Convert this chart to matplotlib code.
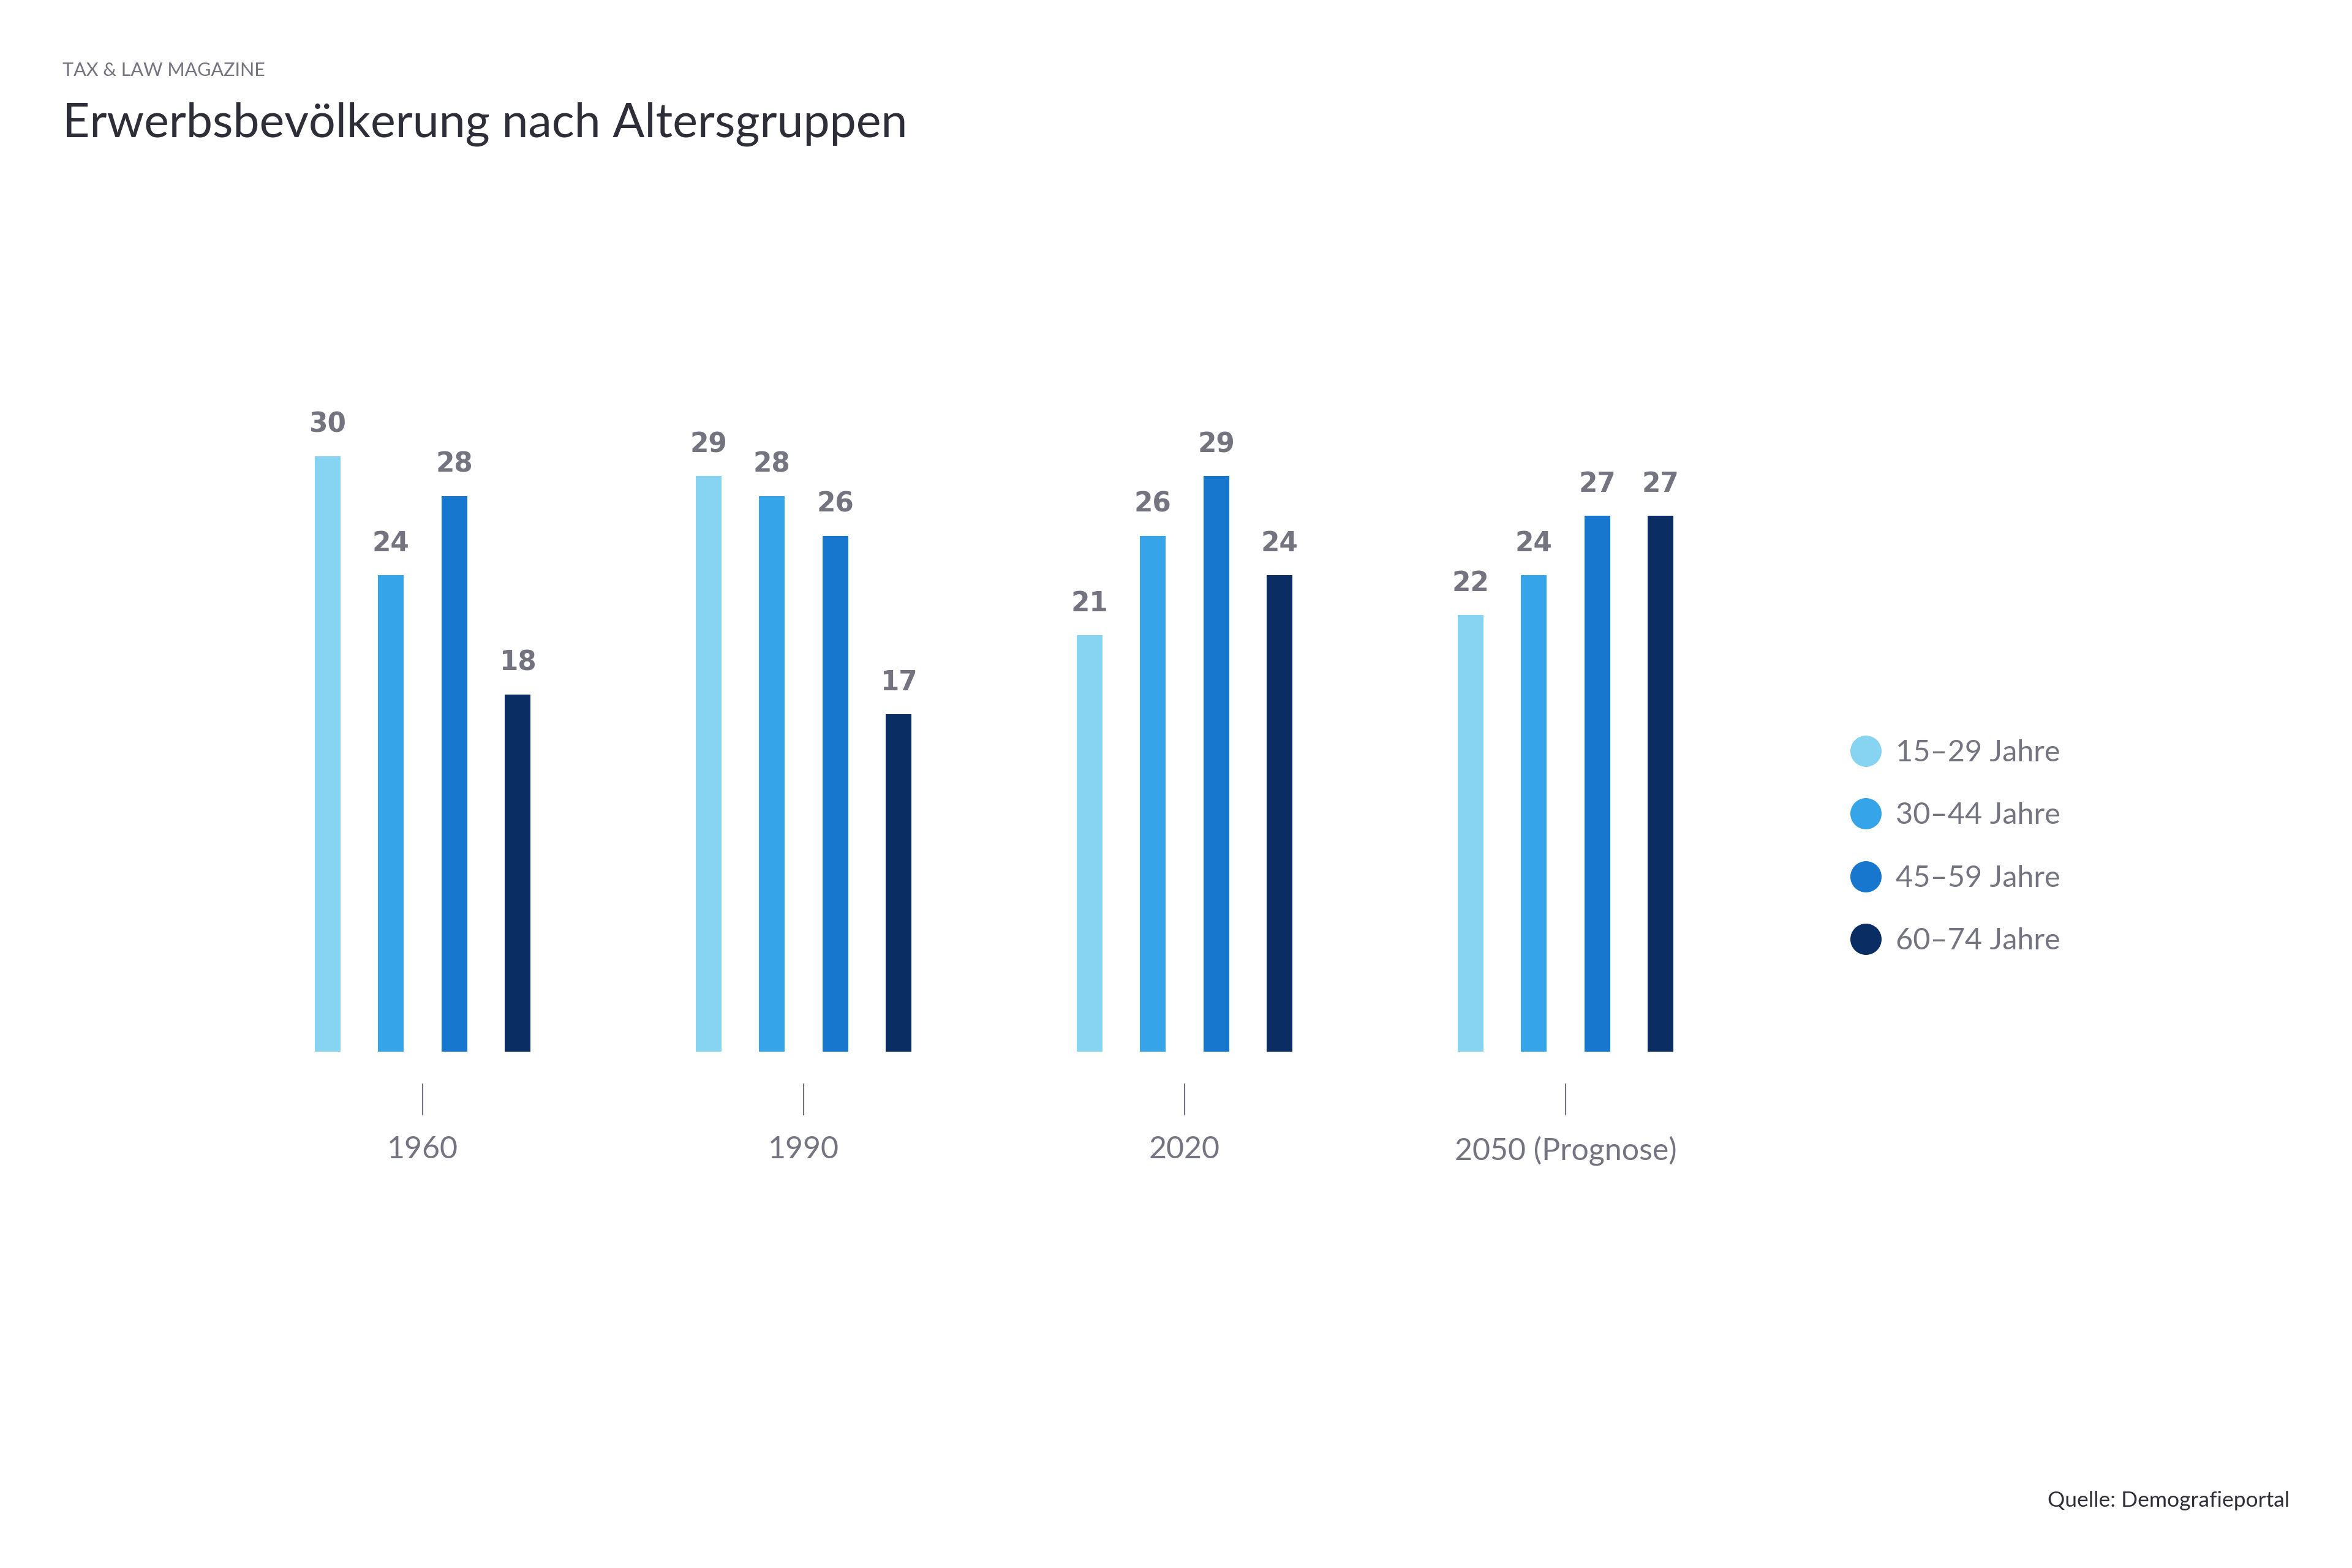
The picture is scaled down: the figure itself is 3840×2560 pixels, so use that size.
import matplotlib
matplotlib.use("Agg")
import matplotlib.pyplot as plt
from matplotlib.lines import Line2D
import numpy as np

# ---- data ----
years = ["1960", "1990", "2020", "2050 (Prognose)"]
age_groups = ["15–29 Jahre", "30–44 Jahre", "45–59 Jahre", "60–74 Jahre"]
v_15_29 = [30, 29, 21, 22]
v_30_44 = [24, 28, 26, 24]
v_45_59 = [28, 26, 29, 27]
v_60_74 = [18, 17, 24, 27]
series = [v_15_29, v_30_44, v_45_59, v_60_74]
colors = ["#87D3F2", "#35A4E8", "#1777CF", "#0A2D64"]

GREY = "#747480"
DARK = "#2E2E38"
FONT = "Lato"

W, H = 3840, 2560
DPI = 100
fig = plt.figure(figsize=(W / DPI, H / DPI), dpi=DPI)
fig.patch.set_facecolor("white")

def px(x0, y0_top, w, h):
    # convert pixel rect (top-left origin) to figure fraction
    return [x0 / W, 1 - (y0_top + h) / H, w / W, h / H]

# axes: x from -0.5..3.5 (622 px per group), y 0..35 (32.4 px per unit), baseline at 1717 px
group_px = 622
unit_px = 32.4
left_px = 690 - 0.5 * group_px
ax_w = 4 * group_px
ymax = 35
ax_h = ymax * unit_px
ax = fig.add_axes(px(left_px, 1717 - ax_h, ax_w, ax_h))
ax.set_xlim(-0.5, 3.5)
ax.set_ylim(0, ymax)

x = np.arange(len(years))
pitch = 103.5 / group_px
bw = 42 / group_px
for i, (vals, c, lab) in enumerate(zip(series, colors, age_groups)):
    xs = x + (i - 1.5) * pitch
    ax.bar(xs, vals, width=bw, color=c, label=lab, linewidth=0)
    for xi, v in zip(xs, vals):
        ax.annotate(str(v), (xi, v), xytext=(0, 39 * 0.72), textcoords="offset points",
                    ha="center", va="baseline", fontsize=31.5, fontweight="bold",
                    color=GREY, family="DejaVu Sans")

for s in ["top", "right", "left"]:
    ax.spines[s].set_visible(False)
ax.spines["bottom"].set_position(("outward", 52 * 0.72))
ax.spines["bottom"].set_visible(False)
ax.set_yticks([])
ax.set_xticks(x)
ax.set_xticklabels(years, fontsize=36, color=GREY, family=FONT)
ax.tick_params(axis="x", length=52 * 0.72, width=1.5, color=GREY, pad=33 * 0.72)
ax.patch.set_alpha(0)

# legend
handles = [Line2D([0], [0], marker="o", linestyle="none", markersize=51 * 0.72,
                  markerfacecolor=c, markeredgewidth=0) for c in colors]
leg = fig.legend(handles, age_groups, loc="upper left",
                 bbox_to_anchor=(3022 / W, 1 - 1207 / H), frameon=False,
                 prop={"family": FONT, "size": 35}, labelcolor=GREY,
                 handlelength=1.0, handletextpad=0.5, labelspacing=1.2,
                 borderpad=0, borderaxespad=0)

# header texts
fig.text(102 / W, 1 - 124 / H, "TAX & LAW MAGAZINE", fontsize=22, color=GREY,
         family=FONT, va="baseline", ha="left")
fig.text(102 / W, 1 - 224 / H, "Erwerbsbevölkerung nach Altersgruppen", fontsize=55.5,
         color=DARK, family=FONT, va="baseline", ha="left")
fig.text(3738 / W, 1 - 2460 / H, "Quelle: Demografieportal", fontsize=25.5, color=DARK,
         family=FONT, va="baseline", ha="right")

fig.savefig("out.png", dpi=DPI, facecolor="white")
